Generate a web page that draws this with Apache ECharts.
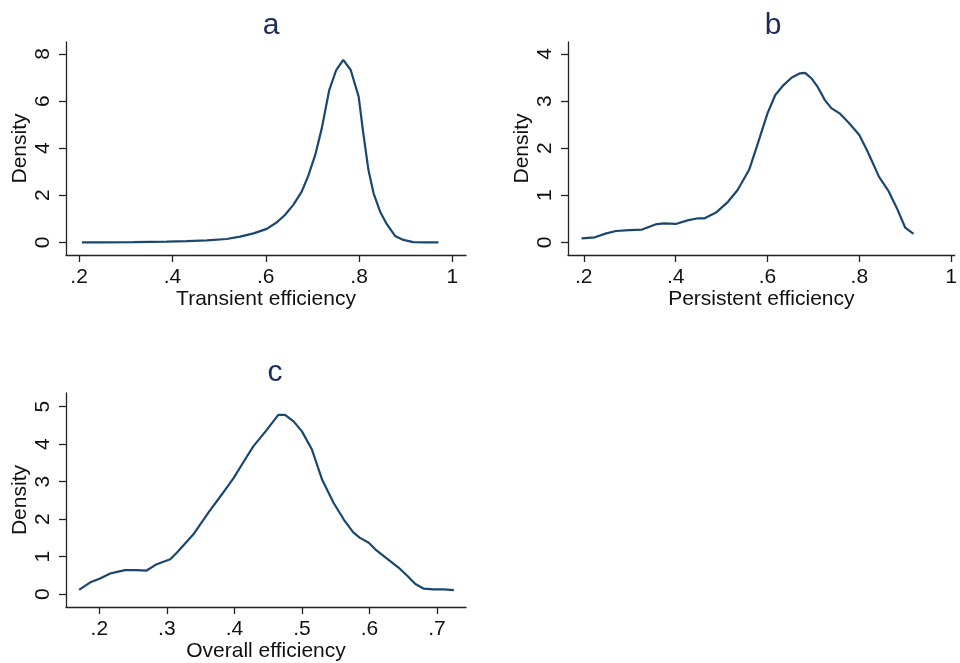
<!DOCTYPE html>
<html>
<head>
<meta charset="utf-8">
<script src="https://cdn.jsdelivr.net/npm/echarts@6/dist/echarts.min.js"></script>
<style>
  html, body { margin: 0; padding: 0; background: #fff; }
  #main { width: 960px; height: 663px; }
</style>
</head>
<body>
<div id="main"></div>
<script>
// panel a: transient efficiency density
var transientX = [0.206, 0.245, 0.316, 0.388, 0.431, 0.474, 0.516, 0.545, 0.574, 0.602, 0.624, 0.641, 0.659, 0.677, 0.691, 0.706, 0.720, 0.736, 0.751, 0.766, 0.782, 0.799, 0.809, 0.820, 0.831, 0.845, 0.859, 0.877, 0.895, 0.916, 0.945, 0.970];
var transientY = [0, 0, 0.005, 0.03, 0.05, 0.08, 0.14, 0.24, 0.38, 0.57, 0.85, 1.16, 1.59, 2.15, 2.82, 3.71, 4.84, 6.47, 7.32, 7.75, 7.32, 6.19, 4.63, 3.07, 2.08, 1.30, 0.78, 0.27, 0.10, 0.01, 0, 0];

// panel b: persistent efficiency density
var persistentX = [0.195, 0.224, 0.249, 0.270, 0.299, 0.327, 0.356, 0.374, 0.400, 0.428, 0.449, 0.463, 0.489, 0.514, 0.535, 0.560, 0.578, 0.600, 0.617, 0.635, 0.653, 0.671, 0.682, 0.696, 0.710, 0.725, 0.739, 0.757, 0.778, 0.800, 0.818, 0.843, 0.864, 0.882, 0.900, 0.918];
var persistentY = [0.085, 0.106, 0.19, 0.24, 0.26, 0.27, 0.38, 0.40, 0.39, 0.47, 0.51, 0.51, 0.64, 0.86, 1.11, 1.54, 2.07, 2.74, 3.13, 3.34, 3.50, 3.59, 3.60, 3.48, 3.29, 3.02, 2.85, 2.74, 2.53, 2.28, 1.93, 1.39, 1.08, 0.72, 0.31, 0.18];

// panel c: overall efficiency density
var overallX = [0.170, 0.186, 0.201, 0.216, 0.228, 0.238, 0.255, 0.270, 0.285, 0.305, 0.315, 0.339, 0.362, 0.381, 0.399, 0.413, 0.428, 0.448, 0.465, 0.475, 0.488, 0.500, 0.515, 0.530, 0.547, 0.562, 0.576, 0.586, 0.599, 0.609, 0.626, 0.643, 0.656, 0.668, 0.680, 0.695, 0.710, 0.725];
var overallY = [0.115, 0.31, 0.42, 0.55, 0.60, 0.64, 0.64, 0.63, 0.80, 0.93, 1.11, 1.59, 2.19, 2.65, 3.10, 3.51, 3.94, 4.38, 4.78, 4.78, 4.60, 4.34, 3.85, 3.05, 2.43, 1.99, 1.65, 1.50, 1.37, 1.19, 0.95, 0.71, 0.49, 0.27, 0.15, 0.13, 0.13, 0.11];

var titles = ['a', 'b', 'c'];
var xNames = ['Transient efficiency', 'Persistent efficiency', 'Overall efficiency'];
var xTicks = [[0.2, 0.4, 0.6, 0.8, 1], [0.2, 0.4, 0.6, 0.8, 1], [0.2, 0.3, 0.4, 0.5, 0.6, 0.7]];
var yTicks = [[0, 2, 4, 6, 8], [0, 1, 2, 3, 4], [0, 1, 2, 3, 4, 5]];

var FONT = 'Liberation Sans, Arial, sans-serif';
var NAVY = '#1a476f';

function pairs(xs, ys) {
  return xs.map(function (x, i) { return [x, ys[i]]; });
}
function fmt(v) {
  return String(v).replace(/^0\./, '.');
}

var grids = [
  {left: 66, top: 42, width: 400, height: 213},
  {left: 568, top: 42, width: 392, height: 213},
  {left: 66, top: 393, width: 400, height: 215}
];
var xRange = [[0.172, 1.029], [0.1656, 1.0077], [0.1506, 0.743]];
var yRange = [[-0.54, 8.51], [-0.27, 4.255], [-0.345, 5.364]];
var titlePos = [[266, 6], [768, 6], [270, 353]];
var allData = [pairs(transientX, transientY), pairs(persistentX, persistentY), pairs(overallX, overallY)];

var axisLine = {show: true, onZero: false, lineStyle: {color: '#222', width: 1.3}};

var option = {
  backgroundColor: '#fff',
  animation: false,
  title: titles.map(function (t, i) {
    return {
      text: t, left: titlePos[i][0], top: titlePos[i][1], textAlign: 'center',
      textStyle: {fontFamily: FONT, fontSize: 30, fontWeight: 'normal', color: '#1c2d5c'}
    };
  }),
  grid: grids,
  xAxis: grids.map(function (g, i) {
    return {
      type: 'value', gridIndex: i, min: xRange[i][0], max: xRange[i][1],
      name: xNames[i], nameLocation: 'middle', nameGap: 31,
      nameTextStyle: {fontFamily: FONT, fontSize: 21, color: '#111'},
      axisLine: axisLine,
      axisTick: {show: true, length: 7, customValues: xTicks[i], lineStyle: {color: '#222', width: 1.3}},
      axisLabel: {customValues: xTicks[i], formatter: fmt, margin: 12,
        fontFamily: FONT, fontSize: 21, color: '#111'},
      splitLine: {show: false}
    };
  }),
  yAxis: grids.map(function (g, i) {
    return {
      type: 'value', gridIndex: i, min: yRange[i][0], max: yRange[i][1],
      name: 'Density', nameLocation: 'middle', nameGap: 35,
      nameTextStyle: {fontFamily: FONT, fontSize: 21, color: '#111'},
      axisLine: axisLine,
      axisTick: {show: true, length: 7, customValues: yTicks[i], lineStyle: {color: '#222', width: 1.3}},
      axisLabel: {customValues: yTicks[i], rotate: 90, margin: 12,
        fontFamily: FONT, fontSize: 21, color: '#111'},
      splitLine: {show: false}
    };
  }),
  series: allData.map(function (d, i) {
    return {
      type: 'line', xAxisIndex: i, yAxisIndex: i, data: d,
      showSymbol: false, smooth: false,
      lineStyle: {color: NAVY, width: 2.2}
    };
  })
};

var chart = echarts.init(document.getElementById('main'));
chart.setOption(option);
</script>
</body>
</html>
